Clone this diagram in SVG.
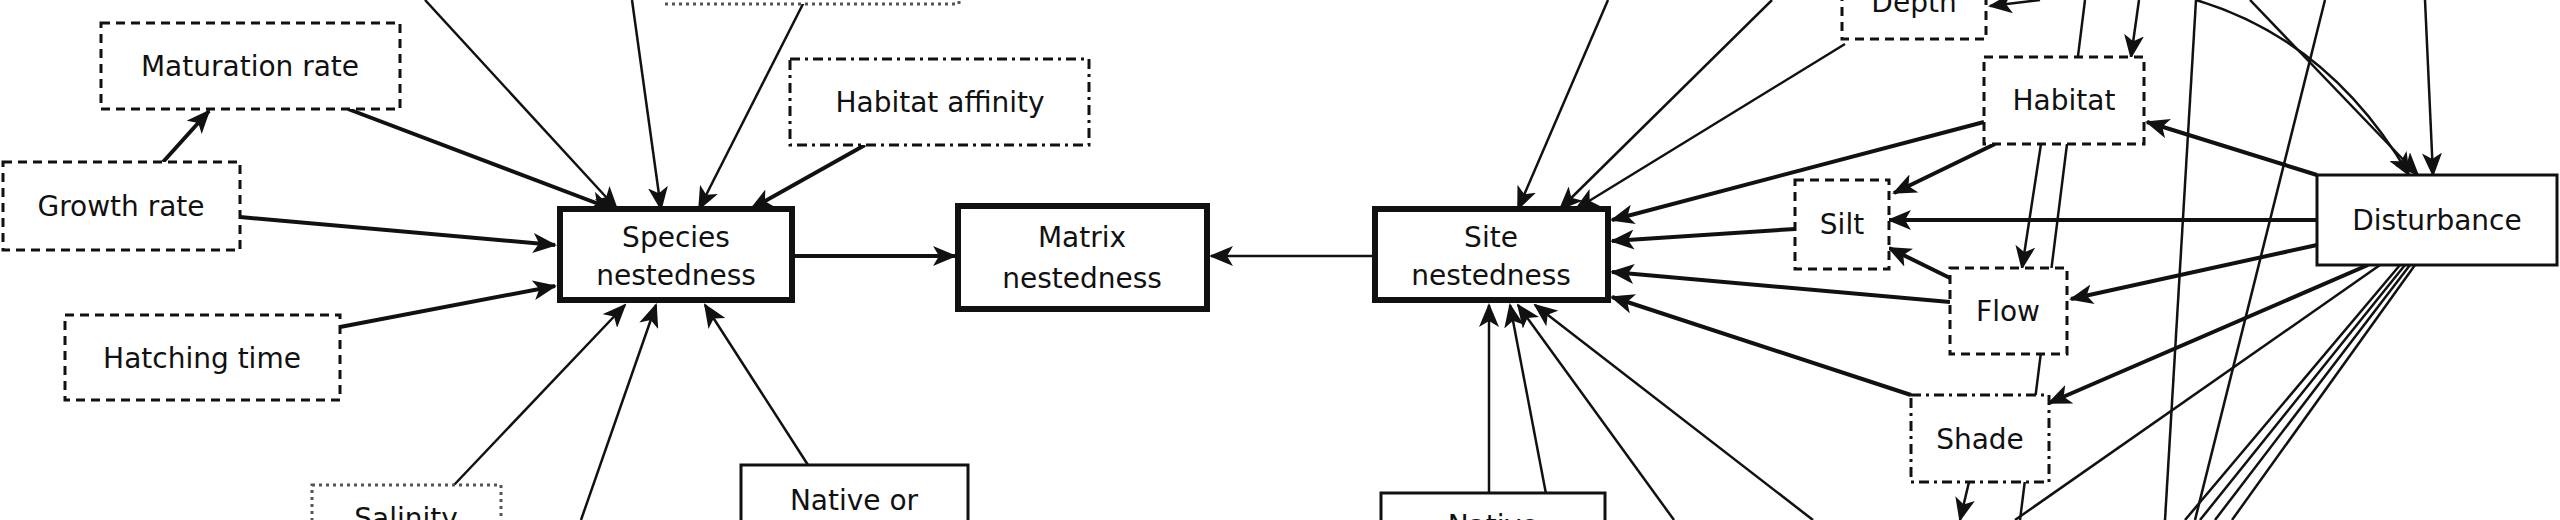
<svg xmlns="http://www.w3.org/2000/svg" width="2560" height="520" viewBox="0 0 2560 520">
<style>
.n rect{fill:#fff;stroke:#111;stroke-width:3}
.k rect{stroke-width:6}
.d rect{stroke-dasharray:9 6}
.dd rect{stroke-dasharray:10 5 3 5}
.dt rect{stroke-dasharray:3 4;stroke:#555}
text{font-family:"DejaVu Sans",sans-serif;font-size:28px;fill:#111;text-anchor:middle}
.e path,.e line{stroke:#111;stroke-width:2.5;fill:none;marker-end:url(#a)}
.e .t{stroke-width:4}
.e .p{marker-end:none}
</style>
<defs>
<marker id="a" markerWidth="10" markerHeight="10" refX="9" refY="5" orient="auto" markerUnits="userSpaceOnUse" viewBox="0 0 10 10">
</marker>
<marker id="b" viewBox="0 0 24 20" refX="22" refY="10" markerWidth="24" markerHeight="20" orient="auto" markerUnits="userSpaceOnUse"><path d="M0,0 L24,10 L0,20 L6,10 Z" fill="#111"/></marker>
</defs>
<rect width="2560" height="520" fill="#fff"/>
<g class="e" style="--m:b">
<g style="marker-end:url(#b)">
<line x1="425" y1="0" x2="617" y2="209" style="marker-end:url(#b)"/>
<line x1="632" y1="0" x2="661" y2="209" style="marker-end:url(#b)"/>
<line x1="805" y1="0" x2="699" y2="209" style="marker-end:url(#b)"/>
<line class="t" x1="348" y1="109" x2="612" y2="209" style="marker-end:url(#b)"/>
<line class="t" x1="163" y1="162" x2="209" y2="111" style="marker-end:url(#b)"/>
<line class="t" x1="240" y1="217" x2="555" y2="245" style="marker-end:url(#b)"/>
<line class="t" x1="340" y1="327" x2="555" y2="286" style="marker-end:url(#b)"/>
<line class="t" x1="865" y1="145" x2="751" y2="209" style="marker-end:url(#b)"/>
<line class="t" x1="792" y1="256" x2="955" y2="256" style="marker-end:url(#b)"/>
<line x1="454" y1="485" x2="625" y2="305" style="marker-end:url(#b)"/>
<line x1="581" y1="520" x2="656" y2="305" style="marker-end:url(#b)"/>
<line x1="808" y1="465" x2="705" y2="305" style="marker-end:url(#b)"/>
<line x1="1375" y1="256" x2="1211" y2="256" style="marker-end:url(#b)"/>
<line x1="1608" y1="0" x2="1518" y2="209" style="marker-end:url(#b)"/>
<line x1="1772" y1="0" x2="1560" y2="209" style="marker-end:url(#b)"/>
<line x1="1845" y1="44" x2="1576" y2="209" style="marker-end:url(#b)"/>
<line class="t" x1="1984" y1="122" x2="1612" y2="220" style="marker-end:url(#b)"/>
<line class="t" x1="1795" y1="229" x2="1612" y2="241" style="marker-end:url(#b)"/>
<line class="t" x1="1950" y1="302" x2="1612" y2="272" style="marker-end:url(#b)"/>
<line class="t" x1="1911" y1="395" x2="1612" y2="297" style="marker-end:url(#b)"/>
<line x1="1489" y1="493" x2="1489" y2="305" style="marker-end:url(#b)"/>
<line x1="1551" y1="520" x2="1510" y2="305" style="marker-end:url(#b)"/>
<line x1="1674" y1="520" x2="1518" y2="305" style="marker-end:url(#b)"/>
<line x1="1813" y1="520" x2="1535" y2="305" style="marker-end:url(#b)"/>
<line class="t" x1="1995" y1="144" x2="1894" y2="193" style="marker-end:url(#b)"/>
<line x1="2041" y1="144" x2="2022" y2="268" style="marker-end:url(#b)"/>
<line class="t" x1="2317" y1="175" x2="2147" y2="122" style="marker-end:url(#b)"/>
<line class="t" x1="2317" y1="220" x2="1889" y2="220" style="marker-end:url(#b)"/>
<line class="t" x1="1950" y1="278" x2="1889" y2="248" style="marker-end:url(#b)"/>
<line class="t" x1="2317" y1="245" x2="2071" y2="299" style="marker-end:url(#b)"/>
<line class="t" x1="2368" y1="265" x2="2049" y2="403" style="marker-end:url(#b)"/>
<line x1="2040" y1="0" x2="1990" y2="6" style="marker-end:url(#b)"/>
<line x1="2139" y1="0" x2="2131" y2="57" style="marker-end:url(#b)"/>
<path d="M2196,0 Q2330,40 2409,175" style="marker-end:url(#b)"/>
<line x1="2250" y1="0" x2="2418" y2="175" style="marker-end:url(#b)"/>
<line x1="2425" y1="0" x2="2433" y2="175" style="marker-end:url(#b)"/>
<line x1="1969" y1="482" x2="1960" y2="520" style="marker-end:url(#b)"/>
<line class="p" x1="2196" y1="0" x2="2165" y2="520"/>
<line class="p" x1="2325" y1="0" x2="2195" y2="520"/>
<line class="p" x1="2085" y1="0" x2="2020" y2="520"/>
<line class="p" x1="2380" y1="265" x2="2015" y2="520"/>
<line class="p" x1="2400" y1="265" x2="2185" y2="520"/>
<line class="p" x1="2405" y1="265" x2="2200" y2="520"/>
<line class="p" x1="2410" y1="265" x2="2215" y2="520"/>
<line class="p" x1="2415" y1="265" x2="2232" y2="520"/>
</g>
</g>
<g id="top-left" class="n dt"><rect x="665" y="-20" width="294" height="24"/></g>
<g id="maturation" class="n d"><rect x="101" y="23" width="299" height="86"/><text x="250" y="76">Maturation rate</text></g>
<g id="growth" class="n d"><rect x="3" y="162" width="237" height="88"/><text x="121" y="216">Growth rate</text></g>
<g id="hatching" class="n d"><rect x="65" y="315" width="275" height="85"/><text x="202" y="368">Hatching time</text></g>
<g id="habitat-affinity" class="n dd"><rect x="790" y="59" width="299" height="86"/><text x="940" y="112">Habitat affinity</text></g>
<g id="species" class="n k"><rect x="560" y="209" width="232" height="91"/><text x="676" y="247">Species</text><text x="676" y="285">nestedness</text></g>
<g id="matrix" class="n k"><rect x="958" y="206" width="249" height="103"/><text x="1082" y="247">Matrix</text><text x="1082" y="288">nestedness</text></g>
<g id="site" class="n k"><rect x="1375" y="209" width="233" height="91"/><text x="1491" y="247">Site</text><text x="1491" y="285">nestedness</text></g>
<g id="salinity" class="n dt"><rect x="312" y="485" width="189" height="60"/><text x="406" y="528">Salinity</text></g>
<g id="native-or" class="n"><rect x="741" y="465" width="227" height="80"/><text x="854" y="510">Native or</text></g>
<g id="native" class="n"><rect x="1381" y="493" width="224" height="60"/><text x="1493" y="535">Native</text></g>
<g id="depth" class="n d"><rect x="1842" y="-40" width="144" height="79"/><text x="1914" y="12">Depth</text></g>
<g id="habitat" class="n d"><rect x="1984" y="57" width="160" height="87"/><text x="2064" y="110">Habitat</text></g>
<g id="silt" class="n d"><rect x="1795" y="180" width="94" height="89"/><text x="1842" y="234">Silt</text></g>
<g id="flow" class="n d"><rect x="1950" y="268" width="117" height="86"/><text x="2008" y="321">Flow</text></g>
<g id="shade" class="n dd"><rect x="1911" y="395" width="138" height="87"/><text x="1980" y="449">Shade</text></g>
<g id="disturbance" class="n"><rect x="2317" y="175" width="240" height="90"/><text x="2437" y="230">Disturbance</text></g>
</svg>
